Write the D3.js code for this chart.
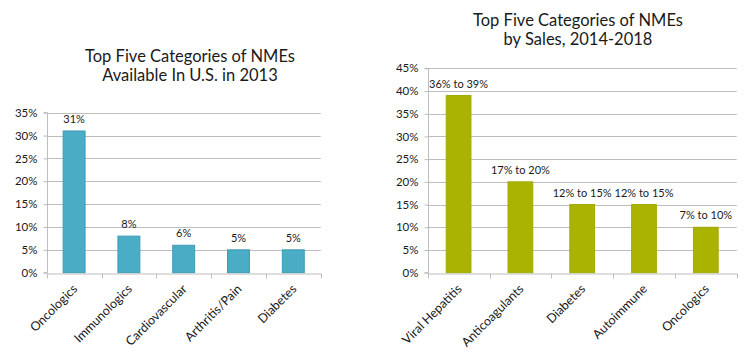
<!DOCTYPE html>
<html>
<head>
<meta charset="utf-8">
<script src="https://cdn.jsdelivr.net/npm/d3@7"></script>
<style>
  html, body { margin: 0; padding: 0; background: #fff; }
  svg { display: block; }
  text { font-family: Lato, "Open Sans", sans-serif; fill: #1a1a1a; }
</style>
</head>
<body>
<svg id="chart" width="750" height="359"></svg>
<script>
// ---- Data ----
const leftTitle = ["Top Five Categories of NMEs", "Available In U.S. in 2013"];
const leftCategories = ["Oncologics", "Immunologics", "Cardiovascular", "Arthritis/Pain", "Diabetes"];
const leftValues = [31, 8, 6, 5, 5];
const leftLabels = ["31%", "8%", "6%", "5%", "5%"];
const leftTicks = [0, 5, 10, 15, 20, 25, 30, 35];

const rightTitle = ["Top Five Categories of NMEs", "by Sales, 2014-2018"];
const rightCategories = ["Viral Hepatitis", "Anticoagulants", "Diabetes", "Autoimmune", "Oncologics"];
const rightValues = [39, 20, 15, 15, 10];
const rightLabels = ["36% to 39%", "17% to 20%", "12% to 15%", "12% to 15%", "7% to 10%"];
const rightTicks = [0, 5, 10, 15, 20, 25, 30, 35, 40, 45];

const svg = d3.select("#chart");

function drawChart(cfg) {
  const g = svg.append("g");
  const x = d3.scaleBand().domain(cfg.categories).range(cfg.xRange).paddingInner(0.6).paddingOuter(0.3);
  const xb = d3.scaleBand().domain(cfg.categories).range(cfg.xRange);
  const y = d3.scaleLinear().domain([0, d3.max(cfg.ticks)]).range(cfg.yRange);

  // title
  g.append("text")
    .attr("x", cfg.titleX).attr("text-anchor", "middle")
    .style("font-size", "16.5px")
    .selectAll("tspan").data(cfg.title).join("tspan")
    .attr("x", cfg.titleX).attr("y", (d, i) => cfg.titleY + i * 19)
    .text(d => d);

  // gridlines
  g.append("g").selectAll("line").data(cfg.ticks.filter(t => t > 0)).join("line")
    .attr("x1", cfg.xRange[0]).attr("x2", cfg.xRange[1])
    .attr("y1", d => Math.round(y(d)) + 0.5).attr("y2", d => Math.round(y(d)) + 0.5)
    .attr("stroke", "#bdbdbd").attr("stroke-width", 1);

  // y axis
  const yAxis = d3.axisLeft(y).tickValues(cfg.ticks).tickSize(4).tickPadding(6)
    .tickFormat(d => d + "%");
  const ya = g.append("g").attr("transform", `translate(${Math.round(cfg.xRange[0]) + 0.5},0)`).call(yAxis);
  ya.select(".domain").attr("stroke", "#bdbdbd").attr("d", `M-4,${y(d3.max(cfg.ticks))}H0V${y(0)}H-4`);
  ya.selectAll(".tick line").attr("stroke", "#bdbdbd");
  ya.selectAll(".tick text").style("font-size", "11.5px").style("font-family", "Lato, sans-serif").attr("fill", "#1a1a1a");

  // bars
  g.append("g").selectAll("rect").data(cfg.values).join("rect")
    .attr("x", (d, i) => x(cfg.categories[i]))
    .attr("width", x.bandwidth())
    .attr("y", d => y(d))
    .attr("height", d => y(0) - y(d))
    .attr("fill", cfg.color)
    .attr("stroke", cfg.stroke).attr("stroke-width", 1);

  // value labels
  g.append("g").selectAll("text").data(cfg.values).join("text")
    .attr("x", (d, i) => x(cfg.categories[i]) + x.bandwidth() / 2)
    .attr("y", d => y(d) - 8)
    .attr("text-anchor", "middle")
    .style("font-size", "11px")
    .text((d, i) => cfg.labels[i]);

  // x axis
  const xAxis = d3.axisBottom(xb).tickSize(0).tickFormat("");
  const xa = g.append("g").attr("transform", `translate(0,${Math.round(y(0)) + 0.5})`).call(xAxis);
  xa.select(".domain").attr("stroke", "#bdbdbd");
  // boundary ticks
  const bounds = cfg.categories.map(c => xb(c)).concat([cfg.xRange[1]]);
  xa.append("g").selectAll("line").data(bounds).join("line")
    .attr("x1", d => Math.round(d) + 0.5).attr("x2", d => Math.round(d) + 0.5)
    .attr("y1", 0).attr("y2", 5).attr("stroke", "#bdbdbd");

  // category labels rotated
  g.append("g").selectAll("text").data(cfg.categories).join("text")
    .attr("transform", c => `translate(${xb(c) + xb.bandwidth() / 2 + 4},${y(0) + 17}) rotate(-45)`)
    .attr("text-anchor", "end")
    .style("font-size", "12.5px")
    .text(c => c);
}

drawChart({
  title: leftTitle, titleX: 190, titleY: 62,
  categories: leftCategories, values: leftValues, labels: leftLabels, ticks: leftTicks,
  xRange: [46.7, 320.7], yRange: [272.7, 112.7],
  color: "#4bacc6", stroke: "#3d9bb6"
});

drawChart({
  title: rightTitle, titleX: 578, titleY: 26,
  categories: rightCategories, values: rightValues, labels: rightLabels, ticks: rightTicks,
  xRange: [427.7, 736.7], yRange: [272.7, 68.3],
  color: "#aab400", stroke: "#a0aa00"
});
</script>
</body>
</html>
